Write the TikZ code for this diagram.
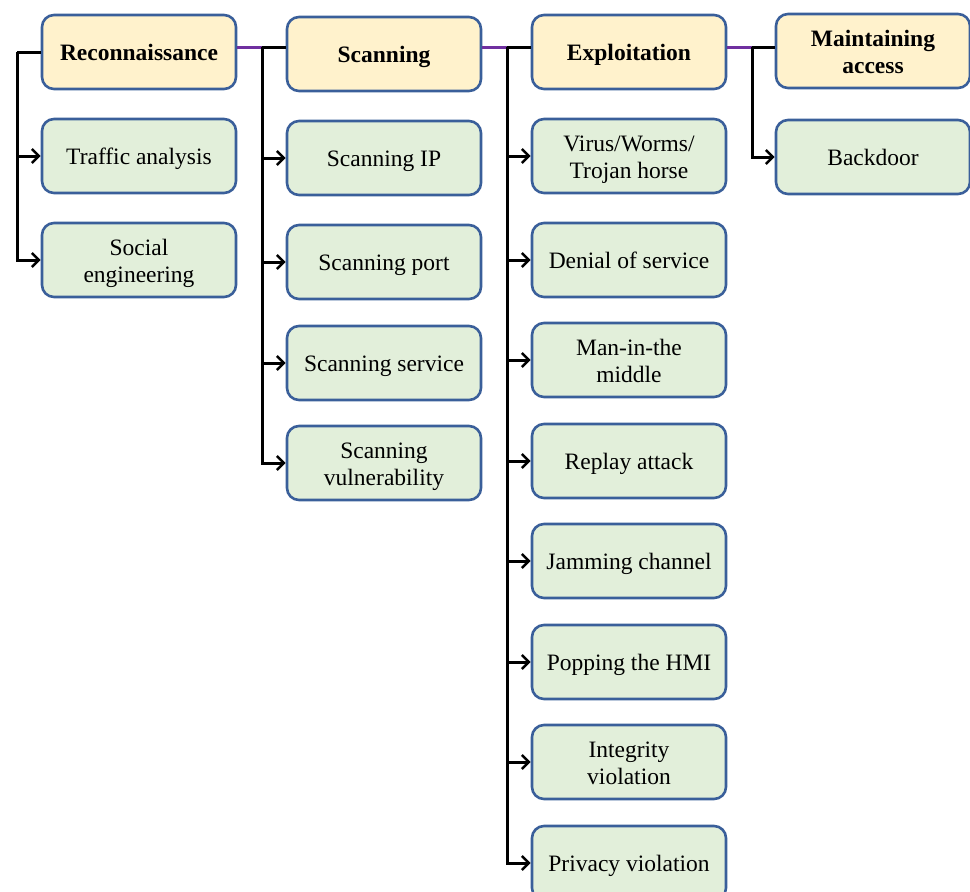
\documentclass[tikz,border=0pt]{standalone}
\usepackage{fontspec}
\setmainfont{Liberation Serif}
\usetikzlibrary{arrows.meta}
\definecolor{hdrfill}{HTML}{FFF2CC}
\definecolor{subfill}{HTML}{E2EFDA}
\definecolor{boxline}{HTML}{3A5F9A}
\definecolor{linkpurple}{HTML}{7030A0}
\newcommand\lowtxt[1]{\raisebox{0pt}[\dimexpr\height+6.5pt\relax][\depth]{\begin{tabular}{@{}c@{}}#1\end{tabular}}}
\tikzset{
  basebox/.style={draw=boxline, line width=2.6pt, rounded corners=12pt,
    minimum width=194pt, minimum height=74pt, inner sep=0pt,
    font=\fontsize{23.5}{27.5}\selectfont},
  hdr/.style={basebox, fill=hdrfill, font=\fontsize{23.5}{27.5}\selectfont\bfseries},
  sub/.style={basebox, fill=subfill},
  conn/.style={draw=black, line width=3pt},
  arr/.style={conn, -{Straight Barb[length=7pt,width=14pt,line width=2.6pt]}},
  link/.style={draw=linkpurple, line width=3pt}
}
\begin{document}
\begin{tikzpicture}[x=1pt,y=-1pt]
\useasboundingbox (0,0) rectangle (970,892);
\clip (0,0) rectangle (970,892);
% column 1
\node[hdr] (rec) at (139,52) {\lowtxt{Reconnaissance}};
\node[sub] (traf) at (139,156) {\lowtxt{Traffic analysis}};
\node[sub] (soc) at (139,260) {\lowtxt{Social\\engineering}};
% column 2
\node[hdr] (scan) at (384,54) {\lowtxt{Scanning}};
\node[sub] (sip) at (384,158) {\lowtxt{Scanning IP}};
\node[sub] (sport) at (384,262) {\lowtxt{Scanning port}};
\node[sub] (sserv) at (384,363) {\lowtxt{Scanning service}};
\node[sub] (svul) at (384,463) {\lowtxt{Scanning\\vulnerability}};
% column 3
\node[hdr] (exp) at (629,52) {\lowtxt{Exploitation}};
\node[sub] (vir) at (629,156) {\lowtxt{Virus/Worms/\\Trojan horse}};
\node[sub] (dos) at (629,260) {\lowtxt{Denial of service}};
\node[sub] (mitm) at (629,360) {\lowtxt{Man-in-the\\middle}};
\node[sub] (rep) at (629,461) {\lowtxt{Replay attack}};
\node[sub] (jam) at (629,561) {\lowtxt{Jamming channel}};
\node[sub] (pop) at (629,662) {\lowtxt{Popping the HMI}};
\node[sub] (integ) at (629,762) {\lowtxt{Integrity\\violation}};
\node[sub] (priv) at (629,863) {\lowtxt{Privacy violation}};
% column 4
\node[hdr] (mnt) at (873,51) {\lowtxt{Maintaining\\access}};
\node[sub] (back) at (873,157) {\lowtxt{Backdoor}};
% trunk points
\coordinate (t1) at (17,52);
\coordinate (t2) at (262,47);
\coordinate (t3) at (507,47);
\coordinate (t4) at (752,47);
% column 1 connectors
\draw[conn] (rec.west) -- (t1);
\draw[arr] (t1) |- (soc.west);
\draw[arr] (t1 |- traf.west) -- (traf.west);
% column 2 connectors
\draw[link] (rec.east |- t2) -- (t2);
\draw[conn] (t2) -- (scan.west |- t2);
\draw[arr] (t2) |- (svul.west);
\draw[arr] (t2 |- sip.west) -- (sip.west);
\draw[arr] (t2 |- sport.west) -- (sport.west);
\draw[arr] (t2 |- sserv.west) -- (sserv.west);
% column 3 connectors
\draw[link] (scan.east |- t3) -- (t3);
\draw[conn] (t3) -- (exp.west |- t3);
\draw[arr] (t3) |- (priv.west);
\draw[arr] (t3 |- vir.west) -- (vir.west);
\draw[arr] (t3 |- dos.west) -- (dos.west);
\draw[arr] (t3 |- mitm.west) -- (mitm.west);
\draw[arr] (t3 |- rep.west) -- (rep.west);
\draw[arr] (t3 |- jam.west) -- (jam.west);
\draw[arr] (t3 |- pop.west) -- (pop.west);
\draw[arr] (t3 |- integ.west) -- (integ.west);
% column 4 connectors
\draw[link] (exp.east |- t4) -- (t4);
\draw[conn] (t4) -- (mnt.west |- t4);
\draw[arr] (t4) |- (back.west);
\end{tikzpicture}
\end{document}
